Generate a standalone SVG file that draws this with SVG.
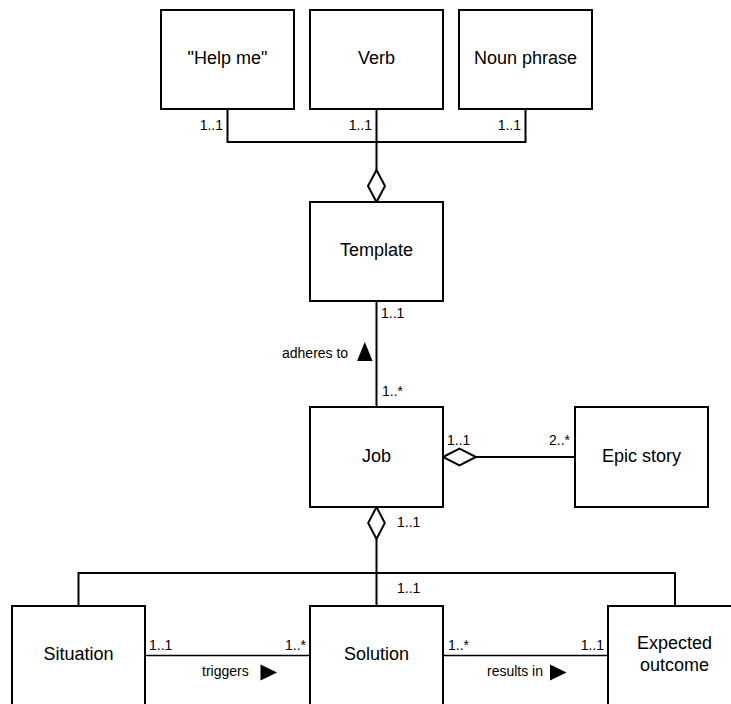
<svg xmlns="http://www.w3.org/2000/svg" width="731" height="704" viewBox="0 0 731 704">
  <style>
    .box { fill: #ffffff; stroke: #000000; stroke-width: 2; }
    .edge { fill: none; stroke: #000000; stroke-width: 2; }
    .thin { fill: none; stroke: #000000; stroke-width: 1.5; }
    .agg { fill: #ffffff; stroke: #000000; stroke-width: 2; }
    .arrow { fill: #000000; stroke: none; }
    .name { font-family: "Liberation Sans", Arial, sans-serif; font-size: 18px; fill: #000000; text-anchor: middle; }
    .mult { font-family: "Liberation Sans", Arial, sans-serif; font-size: 14px; fill: #000000; }
    .end { text-anchor: end; }
  </style>
  <rect width="731" height="704" fill="#ffffff"/>

  <!-- connectors -->
  <g id="connectors">
    <!-- parts of Template -->
    <path class="edge" d="M227.5 109 V142 H525.5 V109 M376.5 109 V170"/>
    <polygon class="agg" points="376.5,170 385,186 376.5,202 368,186"/>
    <!-- Template - Job -->
    <path class="edge" d="M376.5 301 V407"/>
    <polygon class="arrow" points="357,361 364.8,342 372.6,361"/>
    <!-- Job - Epic story -->
    <path class="edge" d="M476 457 H575"/>
    <polygon class="agg" points="443,457 459.5,448.7 476,457 459.5,465.3"/>
    <!-- Job - parts below -->
    <polygon class="agg" points="376.5,507 384.8,523 376.5,539 368.2,523"/>
    <path class="edge" d="M376.5 539 V606 M78.5 606 V573 H675 V606"/>
    <!-- Situation - Solution -->
    <path class="thin" d="M145 655.5 H310"/>
    <polygon class="arrow" points="260.5,664.5 277,672.5 260.5,680.5"/>
    <!-- Solution - Expected outcome -->
    <path class="thin" d="M443 655.5 H608"/>
    <polygon class="arrow" points="550,664.5 566.5,672.5 550,680.5"/>
  </g>

  <!-- labels on connectors -->
  <g id="connector-labels">
    <text class="mult end" x="223" y="130">1..1</text>
    <text class="mult end" x="372" y="130">1..1</text>
    <text class="mult end" x="521" y="130">1..1</text>
    <text class="mult" x="381" y="318">1..1</text>
    <text class="mult" x="282" y="358">adheres to</text>
    <text class="mult" x="382" y="396">1..*</text>
    <text class="mult" x="447" y="445">1..1</text>
    <text class="mult end" x="570" y="445">2..*</text>
    <text class="mult" x="397" y="527">1..1</text>
    <text class="mult" x="397" y="593">1..1</text>
    <text class="mult" x="149" y="650">1..1</text>
    <text class="mult end" x="306" y="650">1..*</text>
    <text class="mult" x="202" y="676">triggers</text>
    <text class="mult" x="448" y="650">1..*</text>
    <text class="mult end" x="604" y="650">1..1</text>
    <text class="mult" x="487" y="676">results in</text>
  </g>

  <!-- nodes -->
  <g id="help-me">
    <rect class="box" x="161" y="10" width="133" height="99"/>
    <text class="name" x="227.5" y="63.5">"Help me"</text>
  </g>
  <g id="verb">
    <rect class="box" x="310" y="10" width="133" height="99"/>
    <text class="name" x="376.5" y="63.5">Verb</text>
  </g>
  <g id="noun-phrase">
    <rect class="box" x="459" y="10" width="133" height="99"/>
    <text class="name" x="525.5" y="63.5">Noun phrase</text>
  </g>
  <g id="template">
    <rect class="box" x="310" y="202" width="133" height="99"/>
    <text class="name" x="376.5" y="255.5">Template</text>
  </g>
  <g id="job">
    <rect class="box" x="310" y="407" width="133" height="100"/>
    <text class="name" x="376.5" y="461.5">Job</text>
  </g>
  <g id="epic-story">
    <rect class="box" x="575" y="407" width="133" height="100"/>
    <text class="name" x="641.5" y="461.5">Epic story</text>
  </g>
  <g id="situation">
    <rect class="box" x="12" y="606" width="133" height="110"/>
    <text class="name" x="78.5" y="660">Situation</text>
  </g>
  <g id="solution">
    <rect class="box" x="310" y="606" width="133" height="110"/>
    <text class="name" x="376.5" y="660">Solution</text>
  </g>
  <g id="expected-outcome">
    <rect class="box" x="608" y="606" width="133" height="110"/>
    <text class="name" x="674.5" y="648.5">Expected</text>
    <text class="name" x="674.5" y="670.5">outcome</text>
  </g>
</svg>
